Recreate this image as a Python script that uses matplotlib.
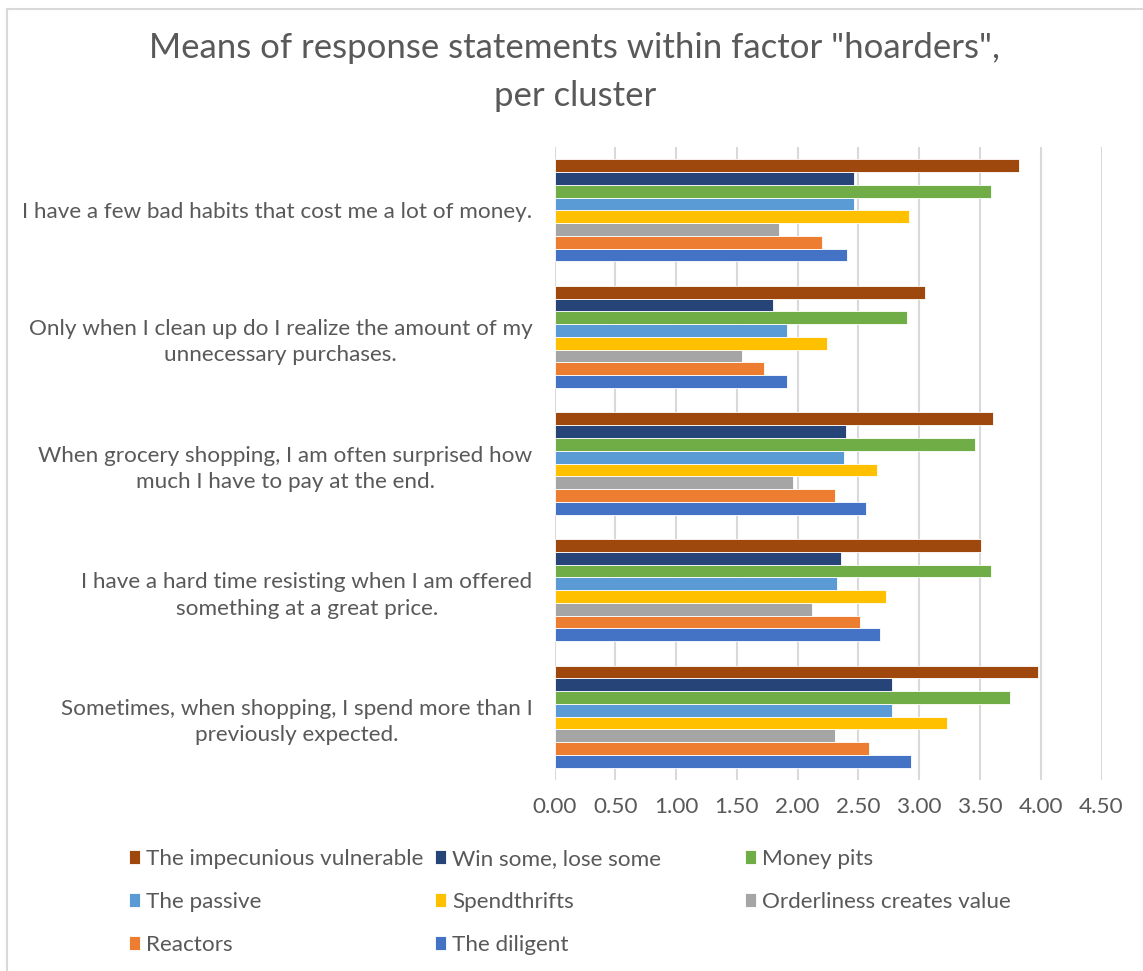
import matplotlib
matplotlib.use("Agg")
import matplotlib.pyplot as plt
import numpy as np

plt.rcParams['font.family'] = ['Lato', 'DejaVu Sans']

# categories from bottom to top
questions = [
    "Sometimes, when shopping, I spend more than I\npreviously expected.",
    "I have a hard time resisting when I am offered\nsomething at a great price.",
    "When grocery shopping, I am often surprised how\nmuch I have to pay at the end.",
    "Only when I clean up do I realize the amount of my\nunnecessary purchases.",
    "I have a few bad habits that cost me a lot of money.",
]

# series, bottom bar of each group first
clusters = ["The diligent", "Reactors", "Orderliness creates value", "Spendthrifts",
            "The passive", "Money pits", "Win some, lose some", "The impecunious vulnerable"]
colors = ["#4472C4", "#ED7D31", "#A5A5A5", "#FFC000",
          "#5B9BD5", "#70AD47", "#264478", "#9E480E"]

diligent = [2.93, 2.68, 2.56, 1.91, 2.41]
reactors = [2.59, 2.51, 2.31, 1.72, 2.20]
orderliness = [2.31, 2.12, 1.96, 1.54, 1.85]
spendthrifts = [3.23, 2.73, 2.65, 2.24, 2.92]
passive = [2.78, 2.32, 2.38, 1.91, 2.46]
money_pits = [3.75, 3.59, 3.46, 2.90, 3.59]
win_some = [2.78, 2.36, 2.40, 1.80, 2.46]
impecunious = [3.98, 3.51, 3.61, 3.05, 3.82]

series = [diligent, reactors, orderliness, spendthrifts,
          passive, money_pits, win_some, impecunious]

grey = "#595959"
fig = plt.figure(figsize=(11.43, 9.71), dpi=100)
ax = fig.add_axes([554.6 / 1143, 1 - 780 / 971, 546.9 / 1143, 633 / 971])

y = np.arange(len(questions))
h = 0.101
bars = []
for j, vals in enumerate(series):
    b = ax.barh(y + (j - 3.5) * h, vals, height=h, color=colors[j],
                edgecolor="white", linewidth=0.6, label=clusters[j], zorder=3)
    bars.append(b)

ax.set_xlim(0, 4.5)
ax.set_ylim(-0.5, 4.5)
ax.set_xticks(np.arange(0, 4.51, 0.5))
ax.set_xticklabels([f"{v:.2f}" for v in np.arange(0, 4.51, 0.5)])
ax.set_yticks(y)
ax.set_yticklabels(questions, multialignment="center", linespacing=1.4)
ax.grid(axis="x", color="#D9D9D9", linewidth=1.5, zorder=0)
for s in ax.spines.values():
    s.set_visible(False)
ax.tick_params(axis="both", length=0, colors=grey, labelsize=16.2)
ax.tick_params(axis="x", pad=12)
ax.tick_params(axis="y", pad=16)

fig.text(0.503, 1 - 72 / 971, 'Means of response statements within factor "hoarders",\nper cluster',
         ha="center", va="center", fontsize=25, color=grey, linespacing=1.58)

# legend in three columns, row order as in the original
cols = [
    ([7, 4, 1], 129),
    ([6, 3, 0], 435),
    ([5, 2], 745),
]
for idx, xpix in cols:
    fig.legend([bars[i] for i in idx], [clusters[i] for i in idx],
               loc="upper left", bbox_to_anchor=(xpix / 1143, 1 - 849 / 971),
               frameon=False, fontsize=16.2, labelcolor=grey,
               handlelength=0.5, handleheight=0.6, handletextpad=0.25,
               labelspacing=1.02, borderpad=0, borderaxespad=0)

fig.patches.append(plt.Rectangle((7 / 1143, -0.1), 1.2, 1 - 9 / 971 + 0.1,
                                 transform=fig.transFigure, fill=False,
                                 edgecolor="#D9D9D9", linewidth=1.5))

fig.savefig("out.png", dpi=100)
